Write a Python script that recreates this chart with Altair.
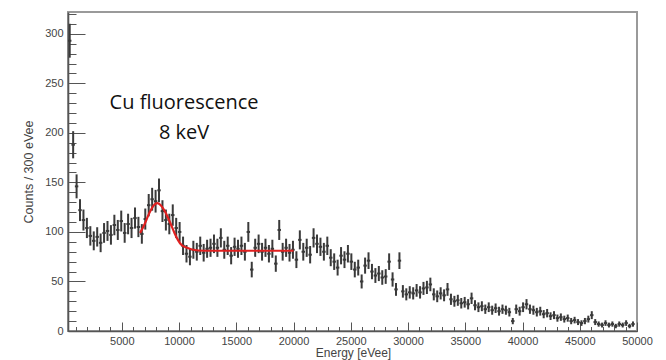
import altair as alt
import pandas as pd
import numpy as np

# ---- data ----
bin_width = 300
first_edge = 300
counts = [
    293, 188, 146, 122, 112, 104, 96, 91, 95, 89,
    99, 101, 97, 107, 102, 111, 99, 108, 104, 114,
    105, 98, 113, 127, 133, 131, 142, 121, 112, 108,
    117, 104, 100, 86, 78, 75, 82, 80, 86, 79,
    83, 84, 88, 84, 94, 82, 86, 76, 85, 83,
    86, 80, 100, 62, 84, 88, 80, 84, 78, 83,
    68, 102, 80, 84, 79, 82, 72, 92, 80, 84,
    77, 94, 88, 85, 80, 86, 74, 70, 64, 76,
    72, 78, 70, 62, 64, 50, 66, 71, 60, 56,
    58, 54, 55, 70, 52, 42, 71, 40, 37, 39,
    38, 41, 39, 43, 44, 47, 37, 35, 38, 36,
    42, 32, 30, 31, 28, 29, 27, 33, 26, 24,
    25, 22, 24, 21, 23, 20, 22, 21, 19, 10,
    22, 20, 24, 27, 22, 21, 19, 20, 17, 18,
    15, 16, 13, 14, 12, 13, 10, 11, 9, 8,
    10, 12, 16, 9, 7, 6, 8, 6, 7, 5,
    7, 6, 8, 5, 7,
]
fit_energy = [6600, 7000, 7400, 7800, 8100, 8400, 8800, 9200, 9600, 9900,
              10200, 10700, 11200, 12200, 20000]
fit_counts = [99, 108, 119, 127, 129, 127, 120, 110, 99, 92,
              87, 84, 82, 81, 81]
label_lines = ["Cu fluorescence", "8 keV"]
label_energy = [10440, 10440]
label_counts = [230, 200]

x_major = list(range(5000, 50001, 5000))
x_minor = list(range(1000, 50001, 1000))
y_major = list(range(0, 301, 50))
y_minor = list(range(0, 321, 10))

# ---- tables ----
n = len(counts)
lo = [first_edge + bin_width * i for i in range(n)]
df = pd.DataFrame({
    "lo": lo,
    "hi": [v + bin_width for v in lo],
    "center": [v + bin_width / 2 for v in lo],
    "count": counts,
})
err = np.sqrt(df["count"])
df["ylo"] = df["count"] - err
df["yhi"] = df["count"] + err

fit_df = pd.DataFrame({"energy": fit_energy, "counts": fit_counts})
lab_df = pd.DataFrame({"text": label_lines, "energy": label_energy, "counts": label_counts})

W, H = 569, 319
FONT = "Liberation Sans"


def xs():
    return alt.Scale(domain=[300, 50000], nice=False, zero=False)


def ys():
    return alt.Scale(domain=[0, 322], nice=False, zero=False)


tick_common = dict(labels=False, domain=False, grid=False, tickColor="#555",
                   tickWidth=1, title=None)

DATA_COLOR = "#3a3a3a"

err_bars = alt.Chart(df).mark_rule(color=DATA_COLOR, strokeWidth=2.0).encode(
    x=alt.X("center:Q", scale=xs(), axis=alt.Axis(
        title="Energy [eVee]", values=x_major, format="d", ticks=False, tickSize=0,
        labelPadding=4, labelFontSize=11, labelColor="#444", labelFlush=False,
        labelOverlap=False, domainColor="#555", domainWidth=1.6, grid=False,
        titleX=285, titleY=21, titleAlign="center", titleBaseline="middle",
        titleFontWeight="normal", titleFontSize=12, titleColor="#444")),
    y=alt.Y("ylo:Q", scale=ys(), axis=alt.Axis(
        title="Counts / 300 eVee", values=y_major, ticks=False, tickSize=0,
        labelPadding=5, labelFontSize=11, labelColor="#444", labelOverlap=False,
        domainColor="#555", domainWidth=1.6, grid=False,
        titleX=-40, titleY=159.5, titleAngle=270, titleAlign="center",
        titleBaseline="middle", titleFontWeight="normal", titleFontSize=12.5,
        titleColor="#444")),
    y2="yhi:Q",
)

h_bars = alt.Chart(df).mark_rule(color=DATA_COLOR, strokeWidth=2.0).encode(
    x=alt.X("lo:Q", scale=xs(), axis=alt.Axis(
        orient="top", offset=-H, values=x_major, tickSize=9, **tick_common)),
    x2="hi:Q",
    y=alt.Y("count:Q", scale=ys(), axis=alt.Axis(
        orient="right", offset=-W, values=y_major, tickSize=17, **tick_common)),
)

fit = alt.Chart(fit_df).mark_line(color="#e02020", strokeWidth=2.2,
                                  interpolate="monotone").encode(
    x=alt.X("energy:Q", scale=xs(), axis=alt.Axis(
        orient="top", offset=-H, values=x_minor, tickSize=4.5, **tick_common)),
    y=alt.Y("counts:Q", scale=ys(), axis=alt.Axis(
        orient="right", offset=-W, values=y_minor, tickSize=8, **tick_common)),
)

labels = alt.Chart(lab_df).mark_text(
    font="Open Sans", fontSize=20, color="#111", align="center", baseline="middle"
).encode(
    x=alt.X("energy:Q", scale=xs(), axis=None),
    y=alt.Y("counts:Q", scale=ys(), axis=None),
    text="text:N",
)

chart = alt.layer(err_bars, h_bars, fit, labels).resolve_axis(
    x="independent", y="independent"
).properties(
    width=W, height=H,
    autosize=alt.AutoSizeParams(type="none"),
    padding={"left": 60, "top": 4, "right": 21, "bottom": 29},
    background="white",
).configure_view(
    stroke="#9a9a9a", strokeWidth=2
).configure_axis(
    labelFont=FONT, titleFont=FONT
)

chart.save("out.html", embed_options={"renderer": "svg", "actions": False})
